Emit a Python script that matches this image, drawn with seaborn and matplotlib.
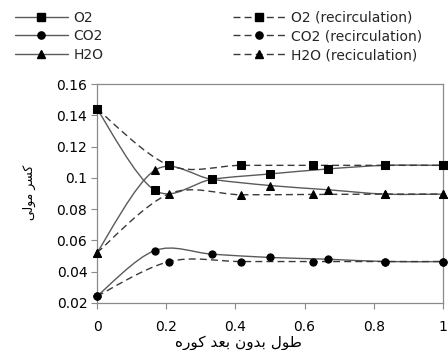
import numpy as np
import pandas as pd
import matplotlib
matplotlib.use("Agg")
import matplotlib.pyplot as plt
from matplotlib.path import Path
from matplotlib.patches import PathPatch
from matplotlib.lines import Line2D
import seaborn as sns

# ── data ──────────────────────────────────────────────────────────────────
x_base = [0, 1 / 6, 1 / 3, 1 / 2, 2 / 3, 5 / 6, 1]
o2_base = [0.144, 0.0921, 0.0991, 0.1025, 0.1057, 0.108, 0.108]
co2_base = [0.0244, 0.0535, 0.0512, 0.0491, 0.048, 0.0465, 0.0465]
h2o_base = [0.0522, 0.1048, 0.0990, 0.0951, 0.0924, 0.0896, 0.0896]

x_rec = [0, 5 / 24, 10 / 24, 15 / 24, 20 / 24, 1]
o2_rec = [0.144, 0.108, 0.108, 0.108, 0.108, 0.108]
co2_rec = [0.0244, 0.0465, 0.0465, 0.0465, 0.0465, 0.0465]
h2o_rec = [0.0522, 0.0898, 0.0892, 0.0894, 0.0896, 0.0896]

labels = ["O2", "CO2", "H2O", "O2 (recirculation)", "CO2 (recirculation)",
          "H2O (reciculation)"]
y_ticks = [0.02, 0.04, 0.06, 0.08, 0.1, 0.12, 0.14, 0.16]
y_ticklabels = ["0.02", "0.04", "0.06", "0.08", "0.1", "0.12", "0.14", "0.16"]
x_ticks = [0, 0.2, 0.4, 0.6, 0.8, 1]
x_ticklabels = ["0", "0.2", "0.4", "0.6", "0.8", "1"]

# Persian labels, pre-shaped in visual order (matplotlib does no RTL shaping)
y_label = "\uFBFD\uFEDF\uFEEE\uFEE3 \uFEAE\uFEB4\uFB90"            # کسر مولی
x_label = ("\uFEE9\uFEAD\uFEEE\uFB90 \uFEAA\uFECC\uFE91 "
           "\uFEE5\uFEED\uFEAA\uFE91 \uFEDD\uFEEE\uFEC3")          # طول بدون بعد کوره

SOLID_COL = "#5a5a5a"
DASH_COL = "#3a3a3a"
SPINE_COL = "#8a8a8a"
DASH = (0, (5, 3))

sns.set_theme(style="white")
plt.rcParams["font.family"] = ["DejaVu Sans"]

fig = plt.figure(figsize=(4.48, 3.5), dpi=100)
ax = fig.add_axes([97 / 448, 1 - 303 / 350, 346 / 448, 219 / 350])


def smooth_path(xs, ys):
    # Excel-style smoothed line: Catmull-Rom as cubic Bezier segments
    pts = np.column_stack([xs, ys])
    n = len(pts)
    verts = [pts[0]]
    codes = [Path.MOVETO]
    for i in range(n - 1):
        p0 = pts[max(i - 1, 0)]
        p1 = pts[i]
        p2 = pts[i + 1]
        p3 = pts[min(i + 2, n - 1)]
        c1 = p1 + (p2 - p0) / 6
        c2 = p2 - (p3 - p1) / 6
        verts += [c1, c2, p2]
        codes += [Path.CURVE4] * 3
    return Path(verts, codes)


series = [
    (x_base, o2_base, "s", "-", SOLID_COL),
    (x_base, co2_base, "o", "-", SOLID_COL),
    (x_base, h2o_base, "^", "-", SOLID_COL),
    (x_rec, o2_rec, "s", DASH, DASH_COL),
    (x_rec, co2_rec, "o", DASH, DASH_COL),
    (x_rec, h2o_rec, "^", DASH, DASH_COL),
]
marker_size = {"s": 5.2, "o": 5.2, "^": 5.2}

for xs, ys, mk, ls, col in series:
    ax.add_patch(PathPatch(smooth_path(xs, ys), fill=False, edgecolor=col,
                           linewidth=1.0, linestyle=ls, clip_on=False))
for xs, ys, mk, ls, col in series:
    df = pd.DataFrame({"x": xs, "y": ys})
    sns.lineplot(data=df, x="x", y="y", ax=ax, linestyle="", marker=mk,
                 markersize=marker_size[mk], color="black",
                 markeredgecolor="black", clip_on=False, zorder=5)

ax.set_xlim(0, 1)
ax.set_ylim(0.02, 0.16)
ax.set_xticks(x_ticks)
ax.set_xticklabels(x_ticklabels)
ax.set_yticks(y_ticks)
ax.set_yticklabels(y_ticklabels)
ax.tick_params(axis="both", which="major", direction="out", length=4,
               width=0.8, color=SPINE_COL, labelsize=10, labelcolor="black",
               left=True, bottom=True, pad=3)
ax.tick_params(axis="x", pad=8)
for sp in ax.spines.values():
    sp.set_color(SPINE_COL)
    sp.set_linewidth(0.9)
ax.set_xlabel("")
ax.set_ylabel("")
ax.grid(False)

fig.text(238 / 448, 1 - 342 / 350, x_label, ha="center", va="center",
         fontsize=11, color="black")
fig.text(29 / 448, 1 - 192 / 350, y_label, ha="center", va="center",
         rotation=90, fontsize=9, color="black")

handles = []
for xs, ys, mk, ls, col in series:
    handles.append(Line2D([], [], color=col, linewidth=1.0, linestyle=ls,
                          marker=mk, markersize=marker_size[mk],
                          markerfacecolor="black", markeredgecolor="black"))
fig.legend(handles, labels, loc="upper left",
           bbox_to_anchor=(2.5 / 448, 1 + 2 / 350),
           ncol=2, frameon=False, fontsize=10, handlelength=3.8,
           handletextpad=0.4, columnspacing=9.3, labelspacing=0.35,
           borderpad=0.4)

fig.savefig("out.png", dpi=100, facecolor="white")
